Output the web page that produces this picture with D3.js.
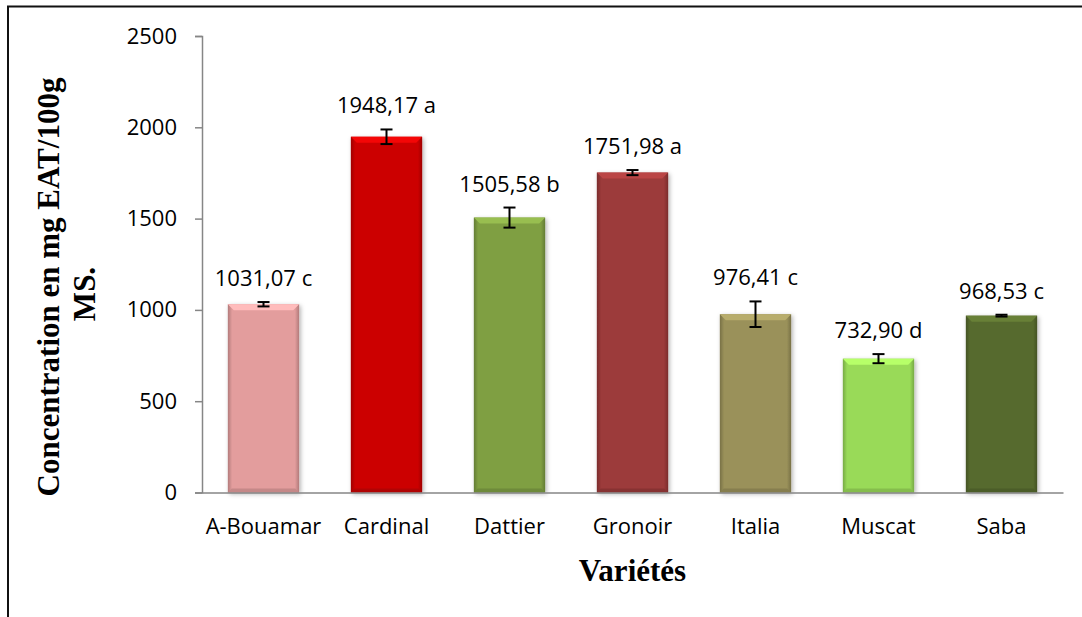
<!DOCTYPE html>
<html>
<head>
<meta charset="utf-8">
<script src="https://cdn.jsdelivr.net/npm/d3@7"></script>
<style>
body { margin: 0; background: #fff; }
svg { display: block; }
</style>
</head>
<body>
<svg id="mainsvg" width="1082" height="617"></svg>
<script>
// data
const categories = ["A-Bouamar", "Cardinal", "Dattier", "Gronoir", "Italia", "Muscat", "Saba"];
const values = [1031.07, 1948.17, 1505.58, 1751.98, 976.41, 732.90, 968.53];
const errors = [12, 40, 55, 14, 70, 25, 5];
const letters = ["c", "a", "b", "a", "c", "d", "c"];
const barColors = ["#e39d9d", "#cc0505", "#7f9f43", "#9c3a3a", "#9a915a", "#99da58", "#576b2e"];
const yTicks = [0, 500, 1000, 1500, 2000, 2500];

let svg = d3.select('#mainsvg');
var width = +svg.attr('width'), height = +svg.attr('height');

const x = d3.scaleBand().domain(categories).range([202, 1063])
    .paddingInner(0.42).paddingOuter(0.21);
const y = d3.scaleLinear().domain([0, 2500]).range([492.5, 36]);

const fmt = v => d3.format(".2f")(v).replace(".", ",");
const data = categories.map((c, i) => ({cat: c, v: values[i], e: errors[i], l: letters[i], col: barColors[i]}));

// outer frame
svg.append('rect')
    .attr('x', 8).attr('y', 6.5)
    .attr('width', width + 10).attr('height', height + 10)
    .attr('fill', 'none').attr('stroke', '#111').attr('stroke-width', 2);

const defs = svg.append('defs');
const shadow = defs.append('filter').attr('id', 'shadow')
    .attr('x', '-20%').attr('y', '-10%').attr('width', '140%').attr('height', '120%');
shadow.append('feDropShadow').attr('dx', 1.5).attr('dy', 1.5)
    .attr('stdDeviation', 2).attr('flood-color', '#000').attr('flood-opacity', 0.3);

data.forEach((d, i) => {
    const g = defs.append('linearGradient').attr('id', 'side' + i)
        .attr('x1', 0).attr('x2', 1).attr('y1', 0).attr('y2', 0);
    const dark = d3.color(d.col).darker(0.7);
    g.append('stop').attr('offset', '0%').attr('stop-color', dark);
    g.append('stop').attr('offset', '6%').attr('stop-color', d.col);
    g.append('stop').attr('offset', '94%').attr('stop-color', d.col);
    g.append('stop').attr('offset', '100%').attr('stop-color', dark);
});

// y axis
const yAxis = svg.append('g')
    .attr('transform', `translate(${x.range()[0]},0)`)
    .call(d3.axisLeft(y).tickValues(yTicks).tickFormat(d3.format('d')).tickSize(7).tickPadding(18));
yAxis.selectAll('path, line').attr('stroke', '#868686').attr('stroke-width', 1.5);
yAxis.selectAll('text')
    .attr('font-family', '"Open Sans", sans-serif').attr('font-size', 22).attr('fill', '#000');

// bars
const bars = svg.selectAll('g.bar').data(data).enter().append('g').attr('class', 'bar');
bars.append('rect')
    .attr('x', d => x(d.cat))
    .attr('y', d => y(d.v))
    .attr('width', x.bandwidth())
    .attr('height', d => y(0) - y(d.v))
    .attr('fill', (d, i) => `url(#side${i})`)
    .attr('filter', 'url(#shadow)');
// top bevel
bars.append('polygon')
    .attr('points', d => {
        const x0 = x(d.cat), x1 = x0 + x.bandwidth(), t = y(d.v), b = 6;
        return [[x0, t], [x1, t], [x1 - b, t + b], [x0 + b, t + b]].join(' ');
    })
    .attr('fill', d => d3.color(d.col).brighter(0.5));
// bottom bevel
bars.append('polygon')
    .attr('points', d => {
        const x0 = x(d.cat), x1 = x0 + x.bandwidth(), t = y(0), b = 4;
        return [[x0, t], [x1, t], [x1 - b, t - b], [x0 + b, t - b]].join(' ');
    })
    .attr('fill', d => d3.color(d.col).darker(0.4));

// x axis
const xAxis = svg.append('g')
    .attr('transform', `translate(0,${y(0)})`)
    .call(d3.axisBottom(x).tickSize(0).tickPadding(26));
xAxis.select('.domain').attr('stroke', '#868686').attr('stroke-width', 1.5);
xAxis.selectAll('text')
    .attr('font-family', '"Open Sans", sans-serif').attr('font-size', 22).attr('fill', '#000');

// error bars
const eb = svg.selectAll('g.err').data(data).enter().append('g').attr('class', 'err')
    .attr('stroke', '#000').attr('stroke-width', 2);
const cx = d => x(d.cat) + x.bandwidth() / 2;
eb.append('line')
    .attr('x1', cx).attr('x2', cx)
    .attr('y1', d => y(d.v - d.e)).attr('y2', d => y(d.v + d.e));
eb.append('line')
    .attr('x1', d => cx(d) - 6).attr('x2', d => cx(d) + 6)
    .attr('y1', d => y(d.v + d.e)).attr('y2', d => y(d.v + d.e));
eb.append('line')
    .attr('x1', d => cx(d) - 6).attr('x2', d => cx(d) + 6)
    .attr('y1', d => y(d.v - d.e)).attr('y2', d => y(d.v - d.e));

// value labels
svg.selectAll('text.val').data(data).enter().append('text')
    .attr('class', 'val')
    .attr('x', cx)
    .attr('y', d => y(d.v + d.e) - 16)
    .attr('text-anchor', 'middle')
    .attr('font-family', '"Open Sans", sans-serif').attr('font-size', 22)
    .text(d => `${fmt(d.v)} ${d.l}`);

// axis titles
svg.append('text')
    .attr('x', (x.range()[0] + x.range()[1]) / 2).attr('y', 581)
    .attr('text-anchor', 'middle')
    .attr('font-family', '"Liberation Serif", "Times New Roman", serif')
    .attr('font-weight', 'bold').attr('font-size', 31)
    .text('Variétés');

const yTitle = ['Concentration en mg EAT/100g', 'MS.'];
svg.selectAll('text.ytitle').data(yTitle).enter().append('text')
    .attr('class', 'ytitle')
    .attr('transform', (d, i) => `translate(${59 + i * 36},${i ? 294 : 287}) rotate(-90)`)
    .attr('text-anchor', 'middle')
    .attr('font-family', '"Liberation Serif", "Times New Roman", serif')
    .attr('font-weight', 'bold').attr('font-size', 31)
    .text(d => d);
</script>
</body>
</html>
